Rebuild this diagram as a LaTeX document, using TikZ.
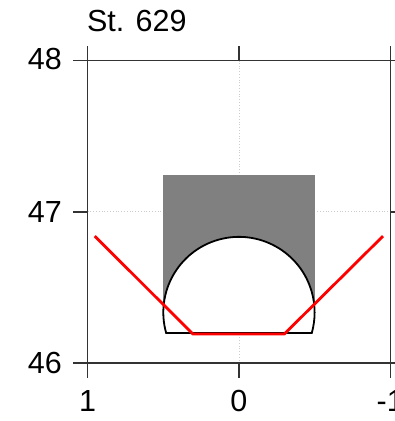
\documentclass[tikz,border=0pt]{standalone}
\usepackage{fontspec}
\setmainfont{Liberation Sans}

\begin{document}
\begin{tikzpicture}[x=-151.3pt, y=151.3pt,
    every node/.style={font=\fontsize{30.5}{36}\selectfont, inner sep=0pt},
    axisline/.style={black!80, line width=1.4pt},
    gridline/.style={black!20, dotted, line width=0.8pt},
    tunnel/.style={black, line width=1.8pt, fill=white},
    profile/.style={red, line width=2.8pt, line join=round}]
  \useasboundingbox (1.5795,45.6185) rectangle (-1.0311,48.4012);
  % grid
  \draw[gridline] (0,46) -- (0,48);
  \draw[gridline] (1,47) -- (-1,47);
  % cover above the tunnel
  \fill[black!50] (0.5,46.335) rectangle (-0.5,47.243);
  % tunnel section
  \draw[tunnel] (0.4814,46.2) arc[start angle=-15.66, end angle=195.66, radius=0.5]
    -- cycle;
  % surveyed profile
  \draw[profile] (0.953,46.84) -- (0.305,46.193) -- (-0.3,46.193) -- (-0.952,46.84);
  % frame and ticks
  \draw[axisline] (1,46) rectangle (-1,48);
  \foreach \x in {1,0,-1} {
    \draw[axisline] (\x,46) -- ++(0,-0.097);
    \draw[axisline] (\x,48) -- ++(0,0.097);
  }
  \foreach \y in {46,47,48} {
    \draw[axisline] (1,\y) -- ++(0.097,0);
    \draw[axisline] (-1,\y) -- ++(-0.097,0);
  }
  % labels
  \node[anchor=north] (xa) at (1,45.82) {1};
  \node[anchor=north] (xb) at (0,45.82) {0};
  \node[anchor=north] (xc) at (-1,45.82) {-1};
  \node[anchor=east] (ya) at (1.17,46) {46};
  \node[anchor=east] (yb) at (1.17,47) {47};
  \node[anchor=east] (yc) at (1.17,48.01) {48};
  \node[anchor=base west] (title) at (1.005,48.19) {St. 629};
\end{tikzpicture}
\end{document}
